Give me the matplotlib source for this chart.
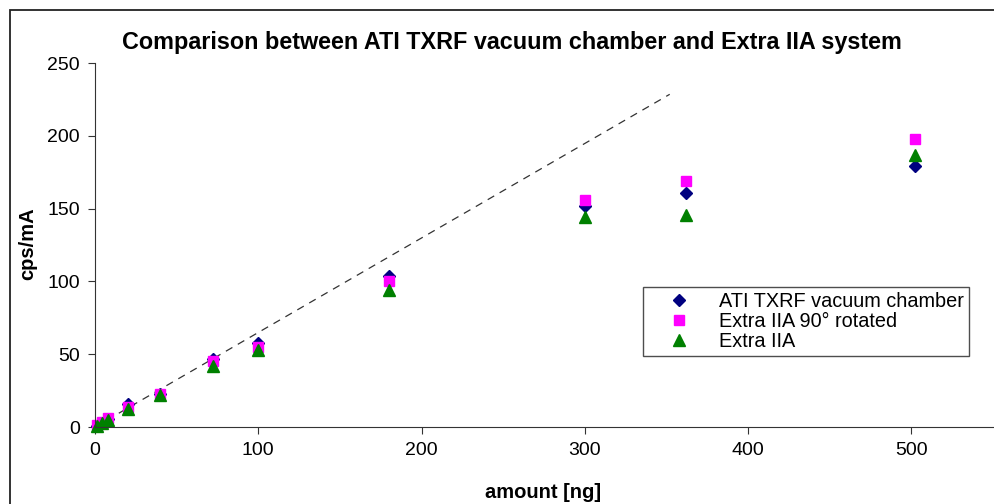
import matplotlib
matplotlib.use('Agg')
import matplotlib.pyplot as plt
from matplotlib.patches import Rectangle

plt.rcParams['font.family'] = ['Liberation Sans', 'DejaVu Sans']

# amounts in ng
amount = [1, 4, 8, 20, 40, 72, 100, 180, 300, 362, 502]
ati = [1, 3, 5.5, 16, 23, 47, 58, 103.5, 151.5, 160.5, 179.5]
rot90 = [1.5, 3.5, 6, 14, 23, 45, 55, 100.5, 156, 169, 197.5]
extra = [0.5, 2.5, 5, 12.5, 22, 42, 53, 94, 144, 145.5, 186.5]

# dashed reference line
fit_x = [0, 352]
fit_y = [0, 228.5]

fig = plt.figure(figsize=(9.94, 5.04), dpi=100)
# outer chart border
fig.patches.append(Rectangle((10/994, -0.1), 1.2, 1 - 10/504 + 0.1, transform=fig.transFigure,
                             fill=False, edgecolor='#222222', linewidth=1.3))

ax = fig.add_axes([95/994, 1 - 427/504, 898/994, 364/504])
ax.plot(fit_x, fit_y, color='#333333', linestyle=(0, (6, 5)), linewidth=0.9)
ax.plot(amount, ati, linestyle='none', marker='D', markersize=6, color='#000080',
        label='ATI TXRF vacuum chamber', clip_on=False)
ax.plot(amount, rot90, linestyle='none', marker='s', markersize=7, color='#ff00ff',
        label='Extra IIA 90\u00b0 rotated', clip_on=False)
ax.plot(amount, extra, linestyle='none', marker='^', markersize=8, color='#008000',
        label='Extra IIA', clip_on=False)

ax.set_xlim(0, 550)
ax.set_ylim(0, 250)
ax.set_xticks([0, 100, 200, 300, 400, 500])
ax.set_yticks([0, 50, 100, 150, 200, 250])
ax.spines['top'].set_visible(False)
ax.spines['right'].set_visible(False)
for s in ['left', 'bottom']:
    ax.spines[s].set_color('#333333')
ax.tick_params(direction='out', length=5, labelsize=14, color='#333333', pad=6)

ax.set_xlabel('amount [ng]', fontsize=14.5, fontweight='bold', va='center')
ax.set_ylabel('cps/mA', fontsize=14.5, fontweight='bold', va='center', ha='center')
ax.xaxis.set_label_coords((543 - 95)/898, (427 - 492)/364)
ax.yaxis.set_label_coords((28 - 95)/898, (427 - 244)/364)
fig.text(512/994, 1 - 43/504, 'Comparison between ATI TXRF vacuum chamber and Extra IIA system',
         ha='center', va='center', fontsize=16.8, fontweight='bold')

leg = ax.legend(loc='upper left', bbox_to_anchor=((643 - 95)/898, (427 - 287)/364),
                fontsize=14.3, frameon=True, fancybox=False, borderpad=0.25,
                labelspacing=0.05, handletextpad=0.5, borderaxespad=0, handlelength=3.1)
leg.get_frame().set_edgecolor('#222222')
leg.get_frame().set_linewidth(1.0)

fig.savefig('out.png', dpi=100)
